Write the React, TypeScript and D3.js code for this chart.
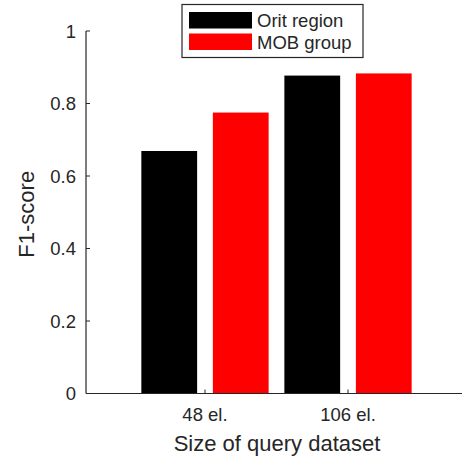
import React from "react";
import * as d3 from "d3";

const categories = ["48 el.", "106 el."];
const seriesNames = ["Orit region", "MOB group"];
const seriesColors = ["#000000", "#ff0000"];
const oritValues = [0.669, 0.877];
const mobValues = [0.775, 0.883];
const yTicks = [0, 0.2, 0.4, 0.6, 0.8, 1];

export default function App() {
  const W = 462, H = 460;
  const x = d3.scaleLinear().domain([0.168, 2.797]).range([86, 462]);
  const y = d3.scaleLinear().domain([0, 1]).range([393.5, 31]);
  const series = [oritValues, mobValues];
  const offsets = [-0.25, 0.25];
  const bw = 0.39;
  const txt = "#262626";
  const font = "Liberation Sans, Arial, Helvetica, sans-serif";
  const tickFs = 18.5;
  const labelFs = 22;
  return (
    <svg width={W} height={H} style={{ position: "absolute", left: 0, top: 0 }} fontFamily={font}>
      <rect width={W} height={H} fill="#fff" />
      {series.map((vals, si) =>
        vals.map((v, ci) => (
          <rect
            key={`${si}-${ci}`}
            x={x(ci + 1 + offsets[si] - bw / 2)}
            y={y(v)}
            width={x(ci + 1 + offsets[si] + bw / 2) - x(ci + 1 + offsets[si] - bw / 2)}
            height={y(0) - y(v)}
            fill={seriesColors[si]}
          />
        ))
      )}
      {/* axes */}
      <line x1={x.range()[0]} x2={x.range()[1]} y1={y(0)} y2={y(0)} stroke={txt} strokeWidth={1.2} />
      <line x1={x.range()[0]} x2={x.range()[0]} y1={y(0)} y2={y(1)} stroke={txt} strokeWidth={1.2} />
      {yTicks.map((t) => (
        <g key={t}>
          <line x1={86} x2={90} y1={y(t)} y2={y(t)} stroke={txt} strokeWidth={1} />
          <text x={76} y={y(t)} dy="0.36em" textAnchor="end" fontSize={tickFs} fill={txt}>
            {d3.format("~g")(t)}
          </text>
        </g>
      ))}
      {categories.map((c, i) => (
        <g key={c}>
          <line x1={x(i + 1)} x2={x(i + 1)} y1={y(0)} y2={y(0) - 4} stroke={txt} strokeWidth={1} />
          <text x={x(i + 1)} y={414.5} dy="0.36em" textAnchor="middle" fontSize={tickFs} fill={txt}>
            {c}
          </text>
        </g>
      ))}
      <text x={277} y={443} dy="0.36em" textAnchor="middle" fontSize={labelFs} fill={txt}>
        Size of query dataset
      </text>
      <text
        transform={`translate(26,${y(0.5) + 2}) rotate(-90)`}
        dy="0.36em"
        textAnchor="middle"
        fontSize={labelFs}
        fill={txt}
      >
        F1-score
      </text>
      {/* legend */}
      <rect x={182} y={4.5} width={181} height={53} fill="#fff" stroke={txt} strokeWidth={1.2} />
      {seriesNames.map((n, i) => (
        <g key={n}>
          <rect x={189} y={12 + i * 21.5} width={63} height={16.5} fill={seriesColors[i]} />
          <text x={257} y={20.5 + i * 21.5} dy="0.36em" fontSize={tickFs} fill={txt}>
            {n}
          </text>
        </g>
      ))}
    </svg>
  );
}
